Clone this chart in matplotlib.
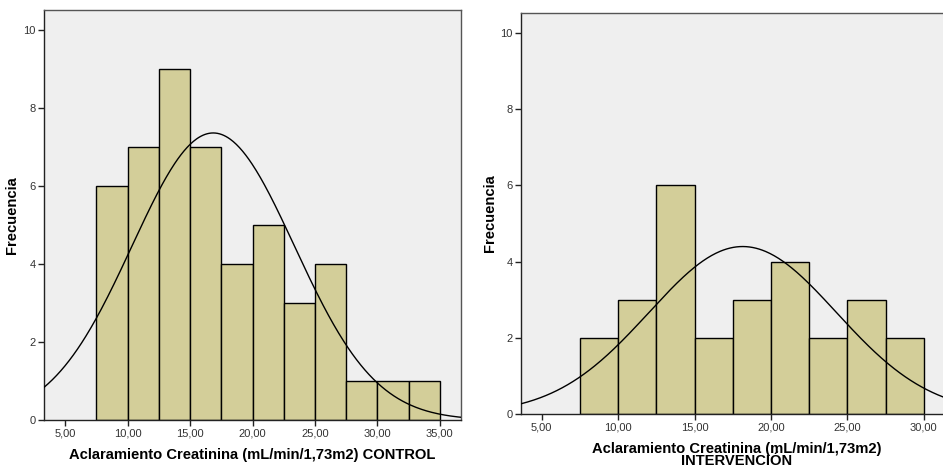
import numpy as np
import matplotlib
matplotlib.use("Agg")
import matplotlib.pyplot as plt

plt.rcParams['font.family'] = ['Liberation Sans', 'DejaVu Sans']

# histogram bins (2.5 wide) and counts
bin_edges = [7.5, 10.0, 12.5, 15.0, 17.5, 20.0, 22.5, 25.0, 27.5, 30.0, 32.5, 35.0]
control_counts = [6, 7, 9, 7, 4, 5, 3, 4, 1, 1, 1]
interv_counts = [2, 3, 6, 2, 3, 4, 2, 3, 2]

# normal curve parameters (mean, sd) estimated from the fitted curves
control_mean, control_sd = 16.85, 6.50
interv_mean, interv_sd = 18.15, 6.13

xticks_control = [5, 10, 15, 20, 25, 30, 35]
xticks_interv = [5, 10, 15, 20, 25, 30]
yticks = [0, 2, 4, 6, 8, 10]

bar_color = '#d3ce99'
bg_color = '#efefef'


def fmt(v):
    return ("%.2f" % v).replace('.', ',')


def draw(ax, counts, mean, sd, xlim, xticks, xlabel, ylab_x):
    ax.set_facecolor(bg_color)
    edges = bin_edges[:len(counts) + 1]
    widths = np.diff(edges)
    ax.bar(edges[:-1], counts, width=widths, align='edge', color=bar_color,
           edgecolor='black', linewidth=1.0, zorder=2)
    x = np.linspace(xlim[0], xlim[1], 400)
    n = sum(counts)
    y = n * 2.5 / (sd * np.sqrt(2 * np.pi)) * np.exp(-(x - mean) ** 2 / (2 * sd ** 2))
    ax.plot(x, y, color='black', linewidth=1.0, zorder=3)
    ax.set_xlim(*xlim)
    ax.set_ylim(0, 10.52)
    ax.set_xticks(xticks)
    ax.set_xticklabels([fmt(v) for v in xticks])
    ax.set_yticks(yticks)
    ax.tick_params(labelsize=8, length=4.5, width=1, color='#222222',
                   labelcolor='#333333', pad=1.5)
    for s in ax.spines.values():
        s.set_color('#555555')
        s.set_linewidth(1.0)
    ax.spines['left'].set_color('#222222')
    ax.spines['bottom'].set_color('#222222')
    ax.set_xlabel(xlabel, fontsize=10.6, fontweight='bold', labelpad=7,
                  linespacing=0.82)
    ax.set_ylabel('Frecuencia', fontsize=10.6, fontweight='bold')
    ax.yaxis.set_label_coords(ylab_x, 0.5)


fig = plt.figure(figsize=(9.43, 4.72), dpi=100)
ax1 = fig.add_axes([0.0467, 0.1102, 0.4422, 0.8686])
ax2 = fig.add_axes([0.5525, 0.1229, 0.458, 0.8496])

draw(ax1, control_counts, control_mean, control_sd, (3.3, 36.7), xticks_control,
     'Aclaramiento Creatinina (mL/min/1,73m2) CONTROL', -0.06)
draw(ax2, interv_counts, interv_mean, interv_sd, (3.65, 31.9), xticks_interv,
     'Aclaramiento Creatinina (mL/min/1,73m2)\nINTERVENCIÓN', -0.056)

fig.savefig('out.png', dpi=100)
